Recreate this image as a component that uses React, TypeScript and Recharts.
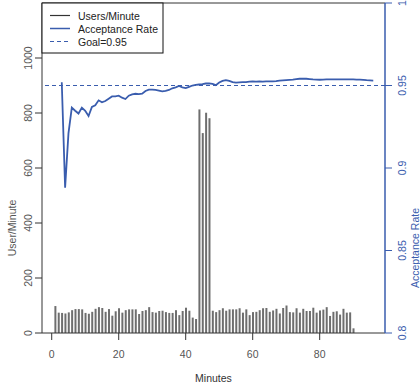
import React from "react";
import {
  ComposedChart,
  Bar,
  Line,
  XAxis,
  YAxis,
  ReferenceLine,
} from "recharts";

// Users per minute, minutes 1..90
const usersStartMinute = 1;
const usersPerMinute = [
  98, 74, 73, 71, 75, 83, 87, 87, 86, 73,
  70, 77, 88, 94, 91, 77, 87, 63, 79, 90,
  74, 83, 86, 86, 86, 69, 80, 83, 94, 76,
  74, 80, 81, 76, 73, 73, 83, 65, 80, 92,
  81, 56, 51, 813, 727, 801, 781, 81, 76, 83,
  90, 81, 86, 86, 86, 90, 74, 86, 65, 76,
  77, 83, 90, 91, 77, 82, 88, 71, 91, 100,
  76, 75, 90, 74, 88, 80, 80, 92, 74, 82,
  85, 94, 62, 77, 79, 67, 88, 74, 75, 17,
];

// Acceptance rate, minutes 3..96
const rateStartMinute = 3;
const acceptanceRate = [
  0.952, 0.888, 0.921, 0.9366, 0.9347, 0.933, 0.9366, 0.9347, 0.9315, 0.937,
  0.938, 0.941, 0.9398, 0.9406, 0.942, 0.9434, 0.9434, 0.9438, 0.9426, 0.9418,
  0.9438, 0.9446, 0.945, 0.9448, 0.945, 0.9467, 0.9475, 0.9475, 0.9473, 0.9469,
  0.9465, 0.9467, 0.9473, 0.9483, 0.9489, 0.9497, 0.9489, 0.9484, 0.9492, 0.95,
  0.9504, 0.9506, 0.9508, 0.9512, 0.9513, 0.951, 0.9502, 0.9518, 0.9528, 0.9533,
  0.9528, 0.952, 0.9518, 0.9519, 0.952, 0.9521, 0.9523, 0.9525, 0.9524, 0.9525,
  0.9524, 0.9525, 0.9525, 0.9525, 0.9526, 0.9529, 0.9531, 0.9533, 0.9534, 0.9535,
  0.9538, 0.9541, 0.9541, 0.9541, 0.9539, 0.9537, 0.9536, 0.9535, 0.9536, 0.9537,
  0.9537, 0.9537, 0.9537, 0.9537, 0.9537, 0.9537, 0.9537, 0.9537, 0.9536, 0.9535,
  0.9534, 0.9532, 0.9531, 0.953,
];

const goal = 0.95;
const xTicks = [0, 20, 40, 60, 80];
const leftTicks = [0, 200, 400, 600, 800, 1000];
const rightTicks = [0.8, 0.85, 0.9, 0.95, 1];
const rightTickLabels = ["0.8", "0.85", "0.9", "0.95", "1"];

const lastMinute = rateStartMinute + acceptanceRate.length - 1;
const rows: { minute: number; users?: number; rate?: number }[] = [];
for (let m = 1; m <= lastMinute; m++) {
  const u = usersPerMinute[m - usersStartMinute];
  const r = acceptanceRate[m - rateStartMinute];
  rows.push({ minute: m, users: u, rate: r });
}

const FONT = "'Liberation Sans', Arial, Helvetica, sans-serif";
const FS = 10.5;
const BLUE = "#3a5dae";
const AXIS = "#333333";
const LABEL = "#555555";

const XTick = (props: any) => {
  const { x, payload } = props;
  return (
    <text x={x} y={357.5} textAnchor="middle" fontSize={FS} fill={LABEL} fontFamily={FONT}>
      {payload.value}
    </text>
  );
};

const LeftTick = (props: any) => {
  const { y, payload } = props;
  return (
    <text
      transform={`translate(31.5,${y}) rotate(-90)`}
      textAnchor="middle"
      fontSize={FS}
      fill={LABEL}
      fontFamily={FONT}
    >
      {payload.value}
    </text>
  );
};

const RightTick = (props: any) => {
  const { y, payload } = props;
  const i = rightTicks.findIndex((t) => Math.abs(t - payload.value) < 1e-9);
  return (
    <text
      transform={`translate(405.5,${y}) rotate(-90)`}
      textAnchor="middle"
      fontSize={FS}
      fill={BLUE}
      fontFamily={FONT}
    >
      {i >= 0 ? rightTickLabels[i] : payload.value}
    </text>
  );
};

export default function App() {
  return (
    <div style={{ position: "absolute", left: 0, top: 0, width: 420, height: 388, background: "#fff" }}>
      <ComposedChart
        width={420}
        height={388}
        data={rows}
        margin={{ top: 3, right: 0, bottom: 0, left: 0 }}
      >
        <XAxis
          dataKey="minute"
          type="number"
          domain={[-2.9, 99.5]}
          ticks={xTicks}
          height={55}
          tickSize={7}
          tick={<XTick />}
          axisLine={{ stroke: AXIS }}
          tickLine={{ stroke: AXIS }}
          allowDataOverflow
          interval={0}
        />
        <YAxis
          yAxisId="left"
          width={42}
          domain={[0, 1200]}
          ticks={leftTicks}
          tickSize={7}
          tick={<LeftTick />}
          axisLine={{ stroke: AXIS }}
          tickLine={{ stroke: AXIS }}
          allowDataOverflow
          interval={0}
        />
        <YAxis
          yAxisId="right"
          orientation="right"
          width={35}
          domain={[0.8, 1.0]}
          ticks={rightTicks}
          tickSize={7}
          tick={<RightTick />}
          axisLine={{ stroke: BLUE, strokeWidth: 1.5 }}
          tickLine={{ stroke: BLUE }}
          allowDataOverflow
          interval={0}
        />
        <ReferenceLine yAxisId="left" y={1200} stroke={AXIS} ifOverflow="extendDomain" />
        <ReferenceLine
          yAxisId="right"
          y={goal}
          stroke={BLUE}
          strokeDasharray="4 3"
          strokeWidth={1.2}
        />
        <Bar
          yAxisId="left"
          dataKey="users"
          fill="#6e6e6e"
          barSize={2}
          isAnimationActive={false}
        />
        <Line
          yAxisId="right"
          dataKey="rate"
          stroke={BLUE}
          strokeWidth={1.8}
          dot={false}
          activeDot={false}
          isAnimationActive={false}
          type="linear"
        />
      </ComposedChart>
      <svg
        width={420}
        height={388}
        style={{ position: "absolute", left: 0, top: 0, pointerEvents: "none" }}
      >
        <g fontFamily={FONT} fontSize={FS}>
          <rect x={42} y={3} width={121} height={50} fill="#fff" stroke="#111" strokeWidth={1} />
          <line x1={50} x2={70} y1={15.5} y2={15.5} stroke="#333" strokeWidth={1.2} />
          <text x={78} y={19.5} fill="#222">Users/Minute</text>
          <line x1={50} x2={70} y1={28.5} y2={28.5} stroke={BLUE} strokeWidth={1.5} />
          <text x={78} y={32.5} fill="#222">Acceptance Rate</text>
          <line x1={50} x2={70} y1={41.5} y2={41.5} stroke={BLUE} strokeWidth={1.2} strokeDasharray="4 3" />
          <text x={78} y={45.5} fill="#222">Goal=0.95</text>
          <text x={213.5} y={382} textAnchor="middle" fill="#333">Minutes</text>
          <text transform="translate(15.5,228) rotate(-90)" textAnchor="middle" fill={LABEL}>
            User/Minute
          </text>
          <text transform="translate(419,248) rotate(-90)" textAnchor="middle" fill={BLUE}>
            Acceptance Rate
          </text>
        </g>
      </svg>
    </div>
  );
}
